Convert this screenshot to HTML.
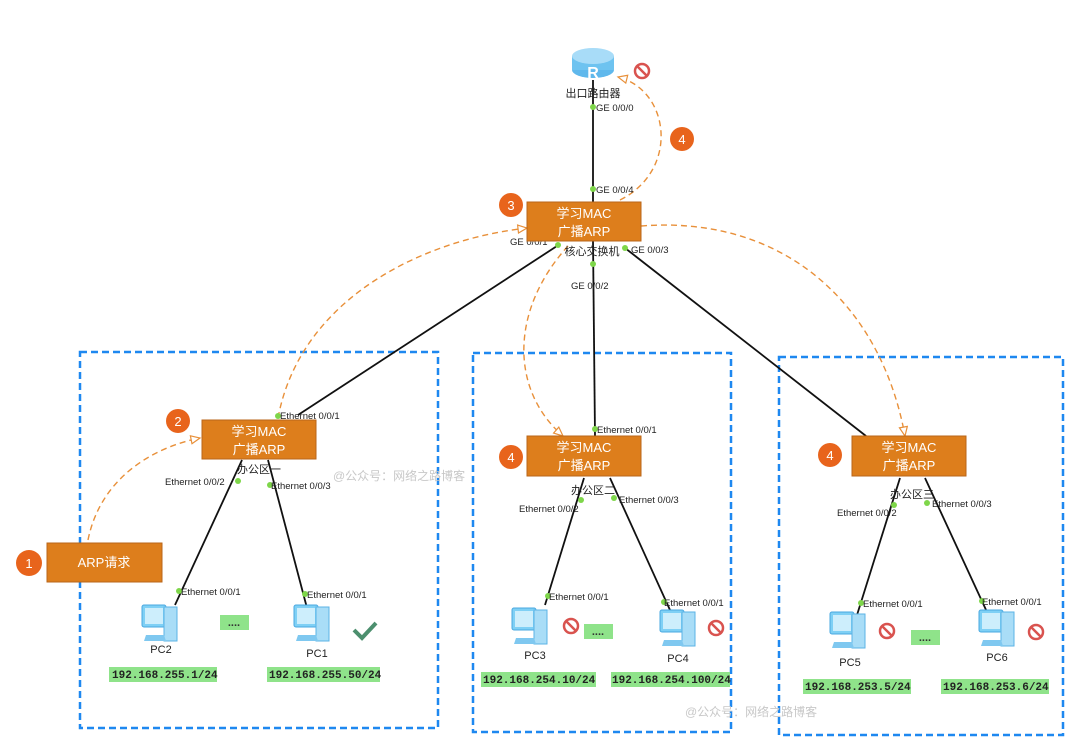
<!DOCTYPE html>
<html><head><meta charset="utf-8"><style>
html,body{margin:0;padding:0;background:#fff}
svg{display:block}
text{font-family:"Liberation Sans","Noto Sans CJK SC",sans-serif}
.e{font-size:9.5px;fill:#222}
.w{font-size:13px;fill:#fff;text-anchor:middle}
.ip{font-family:"Liberation Mono",monospace;font-size:11px;fill:#222;font-weight:bold}
.lbl{font-size:11px;fill:#222;text-anchor:middle}
</style></head><body>
<svg width="1080" height="745" viewBox="0 0 1080 745" xmlns="http://www.w3.org/2000/svg">
<defs>
<g id="pc">
<rect x="-16" y="-20" width="24" height="22" rx="2" fill="#7fd0f5" stroke="#4aa8e0"/>
<rect x="-13" y="-17" width="18" height="16" fill="#cdeefc"/>
<rect x="6" y="-18" width="13" height="34" fill="#a9ddf7" stroke="#5bb3e6"/>
<path d="M-12 10 L6 10 L8 16 L-14 16 Z" fill="#7fc8f0"/>
</g>
<g id="no"><circle r="7" fill="none" stroke="#d9534f" stroke-width="2.5"/><line x1="-5" y1="-5" x2="5" y2="5" stroke="#d9534f" stroke-width="2.5"/></g>
<marker id="ar" markerWidth="12" markerHeight="10" refX="10" refY="5" orient="auto" markerUnits="userSpaceOnUse"><path d="M1 1 L10 5 L1 9 Z" fill="#fff" stroke="#e8903a" stroke-width="1.2"/></marker>
</defs>

<g fill="none" stroke="#1e88f0" stroke-width="2.5" stroke-dasharray="7,4">
<rect x="80" y="352" width="358" height="376"/>
<rect x="473" y="353" width="258" height="379"/>
<rect x="779" y="357" width="284" height="378"/>
</g>

<g stroke="#111" stroke-width="1.8" fill="none">
<line x1="593" y1="80" x2="593" y2="202"/>
<line x1="557" y1="246" x2="298" y2="415"/>
<line x1="593" y1="241" x2="595" y2="436"/>
<line x1="625" y1="248" x2="866" y2="436"/>
<line x1="242" y1="460" x2="175" y2="605"/>
<line x1="268" y1="460" x2="307" y2="608"/>
<line x1="584" y1="478" x2="545" y2="605"/>
<line x1="610" y1="478" x2="670" y2="610"/>
<line x1="900" y1="478" x2="857" y2="615"/>
<line x1="925" y1="478" x2="987" y2="612"/>
</g>

<ellipse cx="593" cy="70" rx="21" ry="8" fill="#5fb8ec"/>
<rect x="572" y="56" width="42" height="14" fill="#6ec3f0"/>
<ellipse cx="593" cy="56" rx="21" ry="8" fill="#a8dcf8"/>
<text x="593" y="78" font-size="16" fill="#fff" text-anchor="middle" font-weight="bold">R</text>
<text x="593" y="97" class="lbl">出口路由器</text>

<g fill="none" stroke="#e8903a" stroke-width="1.4" stroke-dasharray="6,4" marker-end="url(#ar)">
<path d="M88 540 C100 480 150 448 200 438"/>
<path d="M278 418 C300 300 420 240 527 228"/>
<path d="M568 246 C510 310 510 390 563 436"/>
<path d="M641 226 C780 215 880 300 905 436"/>
<path d="M620 200 C680 170 670 90 618 77"/>
</g>

<g fill="#7ed64a">
<circle cx="593" cy="107" r="3"/><circle cx="593" cy="189" r="3"/>
<circle cx="558" cy="245" r="3"/><circle cx="625" cy="248" r="3"/><circle cx="593" cy="264" r="3"/>
<circle cx="278" cy="416" r="3"/><circle cx="238" cy="481" r="3"/><circle cx="270" cy="485" r="3"/>
<circle cx="179" cy="591" r="3"/><circle cx="305" cy="594" r="3"/>
<circle cx="595" cy="429" r="3"/><circle cx="581" cy="500" r="3"/><circle cx="614" cy="498" r="3"/>
<circle cx="548" cy="596" r="3"/><circle cx="664" cy="602" r="3"/>
<circle cx="894" cy="505" r="3"/><circle cx="927" cy="503" r="3"/>
<circle cx="861" cy="603" r="3"/><circle cx="982" cy="601" r="3"/>
</g>

<text class="e" x="596" y="111">GE 0/0/0</text>
<text class="e" x="596" y="193">GE 0/0/4</text>
<text class="e" x="510" y="245">GE 0/0/1</text>
<text class="e" x="631" y="253">GE 0/0/3</text>
<text class="e" x="571" y="289">GE 0/0/2</text>
<text class="e" x="280" y="419">Ethernet 0/0/1</text>
<text class="e" x="165" y="485">Ethernet 0/0/2</text>
<text class="e" x="271" y="489">Ethernet 0/0/3</text>
<text class="lbl" x="259" y="473">办公区一</text>
<text class="e" x="181" y="595">Ethernet 0/0/1</text>
<text class="e" x="307" y="598">Ethernet 0/0/1</text>
<text class="e" x="597" y="433">Ethernet 0/0/1</text>
<text class="e" x="519" y="512">Ethernet 0/0/2</text>
<text class="e" x="619" y="503">Ethernet 0/0/3</text>
<text class="lbl" x="593" y="494">办公区二</text>
<text class="e" x="549" y="600">Ethernet 0/0/1</text>
<text class="e" x="664" y="606">Ethernet 0/0/1</text>
<text class="e" x="837" y="516">Ethernet 0/0/2</text>
<text class="e" x="932" y="507">Ethernet 0/0/3</text>
<text class="lbl" x="912" y="498">办公区三</text>
<text class="e" x="863" y="607">Ethernet 0/0/1</text>
<text class="e" x="982" y="605">Ethernet 0/0/1</text>

<g fill="#dd7e1c" stroke="#b9661a">
<rect x="527" y="202" width="114" height="39"/>
<rect x="202" y="420" width="114" height="39"/>
<rect x="527" y="436" width="114" height="40"/>
<rect x="852" y="436" width="114" height="40"/>
<rect x="47" y="543" width="115" height="39"/>
</g>
<text class="lbl" x="592" y="255">核心交换机</text>
<text class="w" x="584" y="218">学习MAC</text><text class="w" x="584" y="236">广播ARP</text>
<text class="w" x="259" y="436">学习MAC</text><text class="w" x="259" y="454">广播ARP</text>
<text class="w" x="584" y="452">学习MAC</text><text class="w" x="584" y="470">广播ARP</text>
<text class="w" x="909" y="452">学习MAC</text><text class="w" x="909" y="470">广播ARP</text>
<text class="w" x="104" y="567">ARP请求</text>

<g fill="#e8641c">
<circle cx="29" cy="563" r="13"/><circle cx="178" cy="421" r="12"/><circle cx="511" cy="205" r="12"/>
<circle cx="682" cy="139" r="12"/><circle cx="511" cy="457" r="12"/><circle cx="830" cy="455" r="12"/>
</g>
<g fill="#fff" font-size="13" text-anchor="middle">
<text x="29" y="568">1</text><text x="178" y="426">2</text><text x="511" y="210">3</text>
<text x="682" y="144">4</text><text x="511" y="462">4</text><text x="830" y="460">4</text>
</g>

<use href="#pc" x="158" y="625"/><use href="#pc" x="310" y="625"/>
<use href="#pc" x="528" y="628"/><use href="#pc" x="676" y="630"/>
<use href="#pc" x="846" y="632"/><use href="#pc" x="995" y="630"/>
<text class="lbl" x="161" y="653">PC2</text><text class="lbl" x="317" y="657">PC1</text>
<text class="lbl" x="535" y="659">PC3</text><text class="lbl" x="678" y="662">PC4</text>
<text class="lbl" x="850" y="666">PC5</text><text class="lbl" x="997" y="661">PC6</text>

<use href="#no" x="642" y="71"/>
<use href="#no" x="571" y="626"/><use href="#no" x="716" y="628"/>
<use href="#no" x="887" y="631"/><use href="#no" x="1036" y="632"/>
<path d="M354 630 L362 638 L376 623" fill="none" stroke="#4c8f6e" stroke-width="4"/>

<g fill="#8fe38a">
<rect x="220" y="615" width="29" height="15"/><rect x="584" y="624" width="29" height="15"/><rect x="911" y="630" width="29" height="15"/>
</g>
<g font-size="11" font-weight="bold" text-anchor="middle" fill="#333">
<text x="234" y="626">....</text><text x="598" y="635">....</text><text x="925" y="641">....</text>
</g>

<g fill="#8fe38a">
<rect x="109" y="667" width="108" height="15"/><rect x="267" y="667" width="113" height="15"/>
<rect x="481" y="672" width="115" height="15"/><rect x="611" y="672" width="119" height="15"/>
<rect x="803" y="679" width="108" height="15"/><rect x="941" y="679" width="108" height="15"/>
</g>
<text class="ip" x="112" y="678">192.168.255.1/24</text>
<text class="ip" x="269" y="678">192.168.255.50/24</text>
<text class="ip" x="483" y="683">192.168.254.10/24</text>
<text class="ip" x="612" y="683">192.168.254.100/24</text>
<text class="ip" x="805" y="690">192.168.253.5/24</text>
<text class="ip" x="943" y="690">192.168.253.6/24</text>

<text x="333" y="480" font-size="12" fill="#c8c8c8">@公众号：网络之路博客</text>
<text x="685" y="716" font-size="12" fill="#c8c8c8">@公众号：网络之路博客</text>
</svg>
</body></html>
